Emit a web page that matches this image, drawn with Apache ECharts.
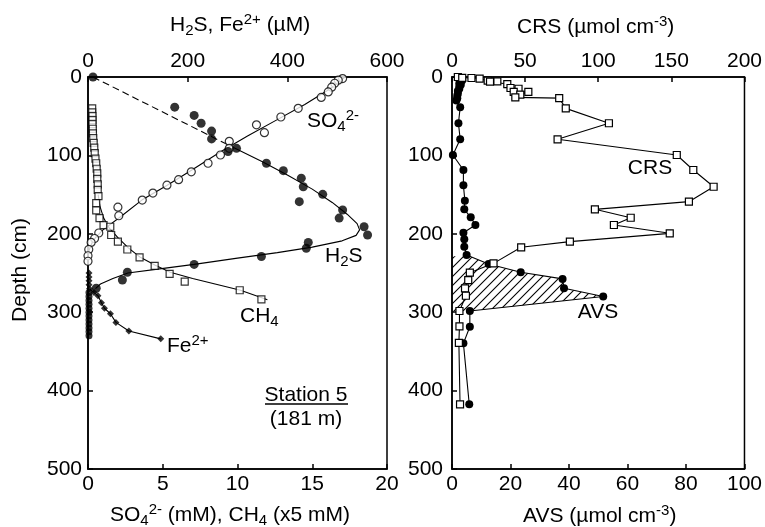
<!DOCTYPE html>
<html>
<head>
<meta charset="utf-8">
<script src="https://cdn.jsdelivr.net/npm/echarts@6/dist/echarts.min.js"></script>
<style>
html,body{margin:0;padding:0;background:#fff;}
#chart{width:765px;height:527px;}
</style>
</head>
<body>
<div id="chart"></div>
<script>
// ---------- DATA (value, depth cm) ----------
// Left panel, bottom axis: SO4 (mM), CH4 (x5 mM)
const so4Points = [[17.03,2],[16.74,4],[16.5,8],[16.3,13],[16.07,19],[15.6,26],[14.06,40],[12.9,51],[11.27,61],[11.8,71],[9.45,82],[9.45,91],[8.86,99.5],[8.03,110],[6.91,121],[6.06,131],[5.28,138],[4.34,148],[3.63,157],[2.0,166],[2.06,177],[0.72,199],[0.44,206],[0.21,211],[0.05,220],[0,228],[0,235]];
const so4Fit = [[17.2,0],[16.2,15],[14.5,35],[12.6,55],[10.7,75],[8.9,95],[7.0,118],[5.3,138],[3.6,157],[2.2,178],[1.0,195],[0.35,208],[0.05,222],[0,235]];
const ch4Points = [[0.28,40],[0.28,45],[0.3,50],[0.3,55],[0.3,60],[0.32,66],[0.33,72],[0.35,78],[0.38,84],[0.42,90],[0.45,97],[0.5,104],[0.55,110],[0.58,117],[0.62,123],[0.62,130],[0.65,137],[0.65,144],[0.7,152],[0.55,161],[0.55,170],[0.77,180],[1.04,189],[1.49,191],[1.55,201.5],[2.0,210],[2.63,220],[3.45,230],[4.46,241],[5.46,251],[6.47,261],[10.15,272],[11.6,283.6]];
const ch4Fit = [[0.68,150],[0.8,165],[1.05,180],[1.4,192],[2.0,205],[2.7,218],[3.5,230],[4.5,240],[5.5,249],[7,257],[8.5,264],[10.2,272],[12,284]];
// Left panel, top axis: H2S, Fe2+ (uM)
const h2sPoints = [[10,0],[174,38.5],[213,49],[227,59],[248,69],[248,79],[281,95],[298,91],[358,110],[392,119.5],[428,129],[432,140],[471,149.7],[424,159],[511,169.6],[504,180],[554,191],[561,201.5],[442,211],[438,218.5],[348,229],[213,239],[79,249],[69,259],[16.5,269.5]];
const h2sZero = [[2,275],[2,280],[2,285],[2,290],[2,295],[2,300],[2,305],[2,310],[2,315],[2,320],[2,325],[2,330]];
const h2sDashed = [[10,0],[295,91]];
const h2sFit = [[295,91],[350,108],[400,125],[450,143],[490,160],[520,175],[540,187],[545,195],[538,202],[510,209],[450,217],[380,224],[300,231],[213,239],[140,245],[80,250],[50,257],[25,264],[15,270]];
const fePoints = [[2,250],[2,255],[2,260],[2,265],[3,270],[12,275],[20,279],[27,288],[33,295],[45,302],[56,313],[82,324],[146,334]];
// Right panel: CRS (top axis, umol cm-3), AVS (bottom axis, umol cm-3)
const crsPoints = [[4,0],[7,1],[13.3,1.3],[18.9,2],[24.4,4.7],[31,5.5],[26,6],[37.8,9],[40,14],[45.5,15],[42.2,19],[52.2,19],[46.7,22.6],[43.3,26],[73.3,27],[77.8,40],[107.3,59],[72.2,79.5],[153.7,99.5],[165,118.6],[178.9,140],[162,159],[97.7,168.8],[122.2,179.5],[110.7,188.8],[148.9,199.4],[80.6,210],[47.3,217.2],[28.4,237.7],[12.2,249.6],[11.1,259],[8.9,269.5],[9.5,279],[5.1,298.5],[5.1,318],[4.7,339],[5.5,417.5]];
const avsPoints = [[2,0],[3,2],[3.5,4],[3,6],[2.5,8],[3,10],[2.5,12],[2.5,15],[2,18],[2,21],[1.8,24],[1.8,27],[1.5,30],[2.8,38.7],[2.2,59],[2.8,79.5],[0.3,99.5],[3.9,118.6],[3.9,138],[4.4,157.7],[4.2,168.8],[6.4,179],[8,188.8],[3.9,198.6],[4.2,207],[4.2,216.5],[5,227],[12.5,238.5],[23.5,249],[37.8,257.5],[38.3,269.5],[51.7,280],[6.1,298.5],[6.1,318.5],[3.9,339.7],[5.9,417.5]];
const avsArea = [[0,229],[5,227],[12.5,238.5],[23.5,249],[37.8,257.5],[38.3,269.5],[51.7,280],[6.1,298.5],[0,299]];
// Tick settings
const depthTicks = {min:0, max:500, interval:100};
const so4Ticks = {min:0, max:20, interval:5};
const h2sTicks = {min:0, max:600, interval:200};
const avsTicks = {min:0, max:100, interval:20};
const crsTicks = {min:0, max:200, interval:50};

// ---------- CHART ----------
const FONT = 'Liberation Sans, Arial, sans-serif';
const FS = 21;
const chart = echarts.init(document.getElementById('chart'), null, {renderer:'canvas'});

// hatch pattern
const pc = document.createElement('canvas');
pc.width = 9; pc.height = 9;
const g = pc.getContext('2d');
g.strokeStyle = '#000'; g.lineWidth = 1.1;
g.beginPath();
g.moveTo(-1,10); g.lineTo(10,-1);
g.moveTo(-1,1); g.lineTo(1,-1);
g.moveTo(8,10); g.lineTo(10,8);
g.stroke();
const hatch = {image: pc, repeat: 'repeat'};

function xAx(grid, pos, t) {
  return {
    type:'value', gridIndex:grid, position:pos, min:t.min, max:t.max, interval:t.interval,
    axisLine:{show:true, onZero:false, lineStyle:{color:'#000', width:1.5}},
    axisTick:{show:true, inside:true, length:5, lineStyle:{color:'#000', width:1.5}},
    axisLabel:{color:'#000', fontSize:FS, fontFamily:FONT, margin:5},
    splitLine:{show:false}
  };
}
function yAx(grid, margin) {
  return {
    type:'value', gridIndex:grid, inverse:true, min:depthTicks.min, max:depthTicks.max, interval:depthTicks.interval,
    axisLine:{show:true, onZero:false, lineStyle:{color:'#000', width:1.5}},
    axisTick:{show:true, inside:true, length:5, lineStyle:{color:'#000', width:1.5}},
    axisLabel:{color:'#000', fontSize:FS, fontFamily:FONT, margin:margin},
    splitLine:{show:false}
  };
}
const blk = '#000';
const lineS = (xi, yi, data, extra) => Object.assign({
  type:'line', xAxisIndex:xi, yAxisIndex:yi, data:data, symbol:'none',
  lineStyle:{color:blk, width:1.1}, animation:false, z:2
}, extra||{});
const rich = {
  a:{fontSize:FS, fontFamily:FONT, color:blk, lineHeight:26},
  sub:{fontSize:15, fontFamily:FONT, color:blk, lineHeight:14, verticalAlign:'bottom'},
  sup:{fontSize:15, fontFamily:FONT, color:blk, lineHeight:12, verticalAlign:'top'}
};
function txt(x, y, text, align, rot) {
  return {type:'text', x:x, y:y, rotation:rot||0,
    style:{text:text, rich:rich, fill:blk, font: FS + 'px ' + FONT, textAlign:align||'left', textVerticalAlign:'middle'}};
}

const option = {
  backgroundColor:'#fff',
  animation:false,
  grid:[
    {left:88, top:77, width:299, height:392, show:true, borderColor:'#000', borderWidth:1.5},
    {left:452, top:77, width:300, height:392, show:true, borderColor:'#000', borderWidth:1.5}
  ],
  xAxis:[
    xAx(0,'bottom',so4Ticks), xAx(0,'top',h2sTicks),
    xAx(1,'bottom',avsTicks), xAx(1,'top',crsTicks)
  ],
  yAxis:[ yAx(0,6), yAx(1,9) ],
  series:[
    lineS(0,0,so4Fit),
    lineS(1,0,h2sDashed,{lineStyle:{color:blk,width:1.1,type:[7,4]}}),
    lineS(1,0,h2sFit),
    lineS(0,0,ch4Fit),
    lineS(1,0,fePoints.slice(4),{}),
    {type:'scatter', xAxisIndex:1, yAxisIndex:0, data:fePoints, symbol:'diamond', symbolSize:7, itemStyle:{color:blk}, z:3},
    {type:'scatter', xAxisIndex:1, yAxisIndex:0, data:h2sZero, symbol:'circle', symbolSize:7, itemStyle:{color:blk}, z:3},
    {type:'scatter', xAxisIndex:0, yAxisIndex:0, data:ch4Points, symbol:'rect', symbolSize:7, itemStyle:{color:'#fff', borderColor:blk, borderWidth:1.2}, z:4},
    {type:'scatter', xAxisIndex:0, yAxisIndex:0, data:so4Points, symbol:'circle', symbolSize:8, itemStyle:{color:'#fff', borderColor:blk, borderWidth:1.2}, z:4},
    {type:'scatter', xAxisIndex:1, yAxisIndex:0, data:h2sPoints, symbol:'circle', symbolSize:9, itemStyle:{color:blk}, z:5},
    {type:'custom', xAxisIndex:2, yAxisIndex:1, data:[[0,0]], z:1,
      renderItem:function(params, api){
        const pts = avsArea.map(p => api.coord([p[0], p[1]]));
        return {type:'polygon', shape:{points:pts}, style:{fill:hatch, stroke:null}};
      }},
    lineS(2,1,avsPoints,{symbol:'circle', symbolSize:8, showSymbol:true, itemStyle:{color:blk}, z:3}),
    lineS(3,1,crsPoints,{symbol:'rect', symbolSize:7, showSymbol:true, itemStyle:{color:'#fff', borderColor:blk, borderWidth:1.2}, z:4})
  ],
  graphic:[
    txt(170, 25, '{a|H}{sub|2}{a|S, Fe}{sup|2+}{a| (µM)}'),
    txt(517, 27, '{a|CRS (µmol cm}{sup|-3}{a|)}'),
    txt(110, 515, '{a|SO}{sub|4}{sup|2-}{a| (mM), CH}{sub|4}{a| (x5 mM)}'),
    txt(523, 516, '{a|AVS (µmol cm}{sup|-3}{a|)}'),
    txt(20, 270, '{a|Depth (cm)}', 'center', Math.PI/2),
    txt(307, 121, '{a|SO}{sub|4}{sup|2-}'),
    txt(325, 256, '{a|H}{sub|2}{a|S}'),
    txt(240, 316, '{a|CH}{sub|4}'),
    txt(167, 346, '{a|Fe}{sup|2+}'),
    txt(306, 395, '{a|Station 5}', 'center'),
    {type:'line', shape:{x1:265, y1:404, x2:348, y2:404}, style:{stroke:blk, lineWidth:1.3}},
    txt(306, 419, '{a|(181 m)}', 'center'),
    txt(650, 168, '{a|CRS}', 'center'),
    txt(598, 312, '{a|AVS}', 'center')
  ]
};
chart.setOption(option);
</script>
</body>
</html>
